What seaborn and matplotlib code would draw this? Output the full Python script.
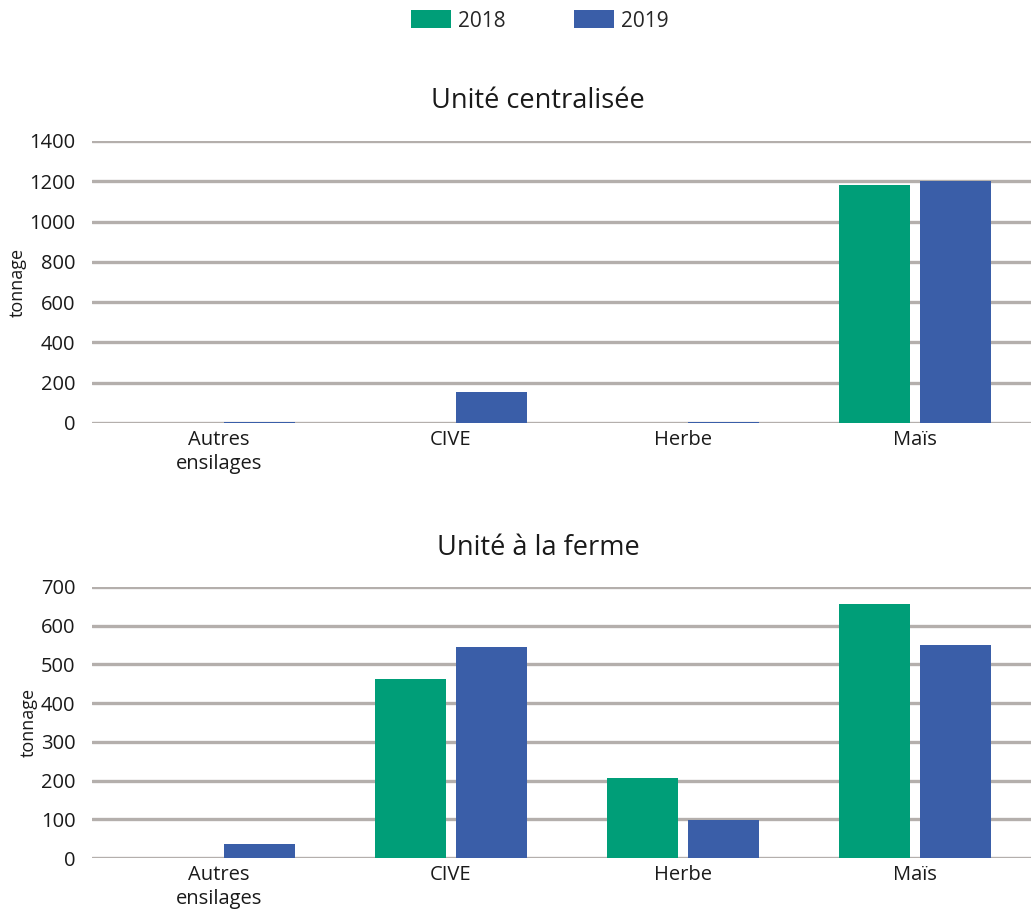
import matplotlib
matplotlib.use("Agg")
import matplotlib.pyplot as plt
import seaborn as sns
import pandas as pd
from matplotlib.patches import Patch

categories = ["Autres\nensilages", "CIVE", "Herbe", "Maïs"]
years = ["2018", "2019"]
centralisee_2018 = [0, 0, 0, 1180]
centralisee_2019 = [5, 155, 5, 1200]
ferme_2018 = [0, 462, 207, 655]
ferme_2019 = [36, 545, 98, 550]
colors = {"2018": "#009e78", "2019": "#3a5ea8"}

def long_df(v18, v19):
    rows = []
    for c, a, b in zip(categories, v18, v19):
        rows.append({"cat": c, "year": "2018", "val": a})
        rows.append({"cat": c, "year": "2019", "val": b})
    return pd.DataFrame(rows)

sns.set_theme(style="white")
plt.rcParams["font.family"] = ["Open Sans", "DejaVu Sans"]

W, H = 1031, 914
fig = plt.figure(figsize=(W / 100, H / 100), dpi=100)

def make_ax(top_px, bot_px):
    return fig.add_axes([92 / W, 1 - bot_px / H, (W - 92) / W, (bot_px - top_px) / H])

ax1 = make_ax(141, 423)
ax2 = make_ax(587, 858)

for ax, (v18, v19), ymax, step, title, ty in [
    (ax1, (centralisee_2018, centralisee_2019), 1400, 200, "Unité centralisée", 101),
    (ax2, (ferme_2018, ferme_2019), 700, 100, "Unité à la ferme", 548),
]:
    df = long_df(v18, v19)
    sns.barplot(data=df, x="cat", y="val", hue="year", order=categories,
                hue_order=years, palette=colors, width=0.70, gap=0.12,
                saturation=1, ax=ax, legend=False, errorbar=None, linewidth=0)
    ax.set_ylim(0, ymax)
    ax.set_xlim(-0.547, 3.5)
    ax.set_yticks(range(0, ymax + 1, step))
    ax.yaxis.grid(True, color="#b4afac", linewidth=2.4)
    ax.set_axisbelow(True)
    for s in ax.spines.values():
        s.set_visible(False)
    ax.tick_params(axis="y", length=0, labelsize=14.5, colors="#1a1a1a", pad=12)
    ax.tick_params(axis="x", length=0, labelsize=14.5, colors="#1a1a1a", pad=5)
    ax.set_xlabel("")
    ax.set_ylabel("tonnage", fontsize=13, color="#1a1a1a", labelpad=2)
    for lbl in ax.get_xticklabels():
        lbl.set_verticalalignment("top")
        lbl.set_linespacing(1.25)
    fig.text(538 / W, 1 - ty / H, title, ha="center", va="center",
             fontsize=19.5, color="#1a1a1a")

handles = [Patch(facecolor=colors[y], edgecolor="none", label=y) for y in years]
fig.legend(handles=handles, loc="center", bbox_to_anchor=(540 / W, 1 - 21 / H),
           ncol=2, frameon=False, fontsize=15, handlelength=1.9, handleheight=0.95,
           columnspacing=3.3, handletextpad=0.35)

fig.savefig("out.png", dpi=100)
